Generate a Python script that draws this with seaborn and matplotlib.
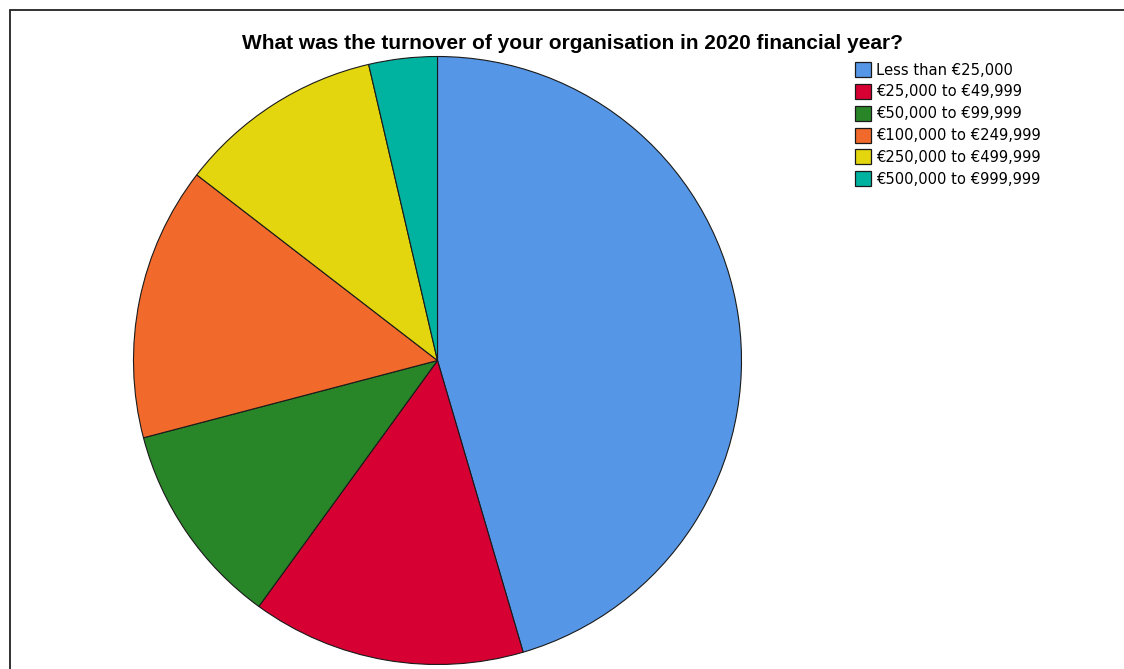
import matplotlib
matplotlib.use("Agg")
import matplotlib.pyplot as plt
from matplotlib.patches import Rectangle
import seaborn as sns

# Survey responses: turnover bands and respondent counts
categories = [
    "Less than €25,000",
    "€25,000 to €49,999",
    "€50,000 to €99,999",
    "€100,000 to €249,999",
    "€250,000 to €499,999",
    "€500,000 to €999,999",
]
counts = [25, 8, 6, 8, 6, 2]
colors = ["#5596E6", "#D60032", "#288528", "#F26A2B", "#E3D60F", "#00B2A0"]

title = "What was the turnover of your organisation in 2020 financial year?"

sns.set_theme(style="white")
plt.rcParams["font.family"] = ["Liberation Sans", "DejaVu Sans"]

W, H = 1124, 669
fig = plt.figure(figsize=(W / 100, H / 100), dpi=100)
fig.patch.set_facecolor("white")

# Outer chart frame (open to the right and bottom edges)
fig.patches.append(Rectangle((9.5 / W, -0.1), 1.2, 1 - 10 / H + 0.1,
                             transform=fig.transFigure, fill=False,
                             edgecolor="#222222", linewidth=1.3))

# Square axes holding the pie
cx, cy, r = 437.5, 360.5, 304
ax = fig.add_axes([(cx - r) / W, (H - cy - r) / H, 2 * r / W, 2 * r / H])
palette = sns.color_palette(colors)
wedges, _ = ax.pie(counts, colors=palette, startangle=90, counterclock=False,
                   radius=1, wedgeprops=dict(edgecolor="#1a1a1a", linewidth=0.8))
ax.set_xlim(-1, 1)
ax.set_ylim(-1, 1)
ax.set_aspect("equal")
ax.axis("off")

fig.text(572 / W, 1 - 43.5 / H, title, ha="center", va="center",
         fontsize=15, fontweight="bold", color="black")

leg = fig.legend(wedges, categories, loc="upper left",
                 bbox_to_anchor=(855 / W, 1 - 62 / H), frameon=False,
                 prop=dict(family=["DejaVu Sans"], size=10.6),
                 handlelength=1.12, handleheight=1.2,
                 handletextpad=0.32, labelspacing=0.43, borderpad=0,
                 borderaxespad=0, labelcolor="black")
for h in leg.legend_handles:
    h.set_edgecolor("#1a1a1a")
    h.set_linewidth(0.9)

fig.savefig("out.png", dpi=100)
